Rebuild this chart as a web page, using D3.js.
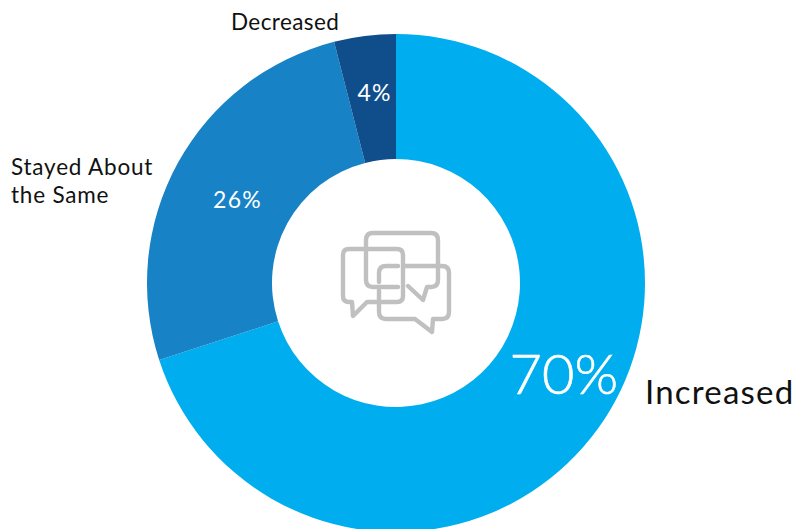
<!DOCTYPE html>
<html>
<head>
<meta charset="utf-8">
<script src="https://cdn.jsdelivr.net/npm/d3@7"></script>
<style>
  html, body { margin: 0; padding: 0; background: #fff; }
  svg { display: block; }
  text { font-family: "Lato", "Open Sans", sans-serif; }
</style>
</head>
<body>
<svg id="chart" width="795" height="529"></svg>
<script>
const categories = ["Increased", "Stayed About the Same", "Decreased"];
const shares = [70, 26, 4];
const sliceColors = ["#00aeef", "#1782c5", "#104e8b"];

// Percent labels sit near each arc's centroid, nudged off it by these offsets.
const pctOffsets = [[17, -20], [5, 6], [2, -6]];
const pctSizes = [56, 23, 23];
const pctWeights = [300, 400, 400];
const pctSpacing = [0, 1.3, 1.3];
const pctOutline = [0.6, 0, 0];

// Category captions, broken into lines and anchored outside the ring.
const captionLines = [["Increased"], ["Stayed About", "the Same"], ["Decreased"]];
const captionAnchors = [[645, 404], [11, 175], [231, 30]];
const captionSizes = [33, 22.5, 22.5];
const captionSpacing = [1.2, 0.8, 0.4];

const cx = 396, cy = 283, outerR = 249, innerR = 124;

const svg = d3.select("#chart");
const root = svg.append("g").attr("transform", `translate(${cx},${cy})`);

const pie = d3.pie().sort(null).value(d => d)(shares);
const arc = d3.arc().innerRadius(innerR).outerRadius(outerR);

root.selectAll("path.slice")
  .data(pie)
  .join("path")
  .attr("class", "slice")
  .attr("d", arc)
  .attr("fill", (d, i) => sliceColors[i]);

root.selectAll("text.pct")
  .data(pie)
  .join("text")
  .attr("class", "pct")
  .attr("x", (d, i) => arc.centroid(d)[0] + pctOffsets[i][0])
  .attr("y", (d, i) => arc.centroid(d)[1] + pctOffsets[i][1])
  .attr("text-anchor", "middle")
  .attr("dominant-baseline", "central")
  .attr("fill", "#fff")
  .attr("stroke", "#fff")
  .attr("stroke-width", (d, i) => pctOutline[i])
  .attr("font-size", (d, i) => pctSizes[i])
  .attr("font-weight", (d, i) => pctWeights[i])
  .attr("letter-spacing", (d, i) => pctSpacing[i])
  .text(d => `${d.value}%`);

svg.selectAll("text.caption")
  .data(categories)
  .join("text")
  .attr("class", "caption")
  .attr("x", (d, i) => captionAnchors[i][0])
  .attr("y", (d, i) => captionAnchors[i][1])
  .attr("fill", "#111")
  .attr("font-size", (d, i) => captionSizes[i])
  .attr("letter-spacing", (d, i) => captionSpacing[i])
  .each(function (d, i) {
    d3.select(this).selectAll("tspan")
      .data(captionLines[i])
      .join("tspan")
      .attr("x", captionAnchors[i][0])
      .attr("dy", (l, j) => (j ? "1.24em" : 0))
      .text(l => l);
  });

// Speech-bubble glyph in the hole of the ring.
const bubbles = [
  // rear bubble
  "M398 287H373Q366 287 366 280V240Q366 233 373 233H431Q438 233 438 240V280Q438 287 431 287H427L423 300L408 286",
  // left bubble
  "M349 249H397Q403 249 403 255V296Q403 302 397 302H367L353 316L352 302H349Q343 302 343 296V255Q343 249 349 249Z",
  // front bubble
  "M398 266H386Q379 266 379 273V282M379 290V312Q379 319 386 319H415L432 332L433 319H442Q449 319 449 312V273Q449 266 442 266H403"
];
svg.append("g")
  .attr("fill", "none")
  .attr("stroke", "#c0c0c0")
  .attr("stroke-width", 4.4)
  .attr("stroke-linecap", "round")
  .attr("stroke-linejoin", "round")
  .selectAll("path")
  .data(bubbles)
  .join("path")
  .attr("d", d => d);
</script>
</body>
</html>
